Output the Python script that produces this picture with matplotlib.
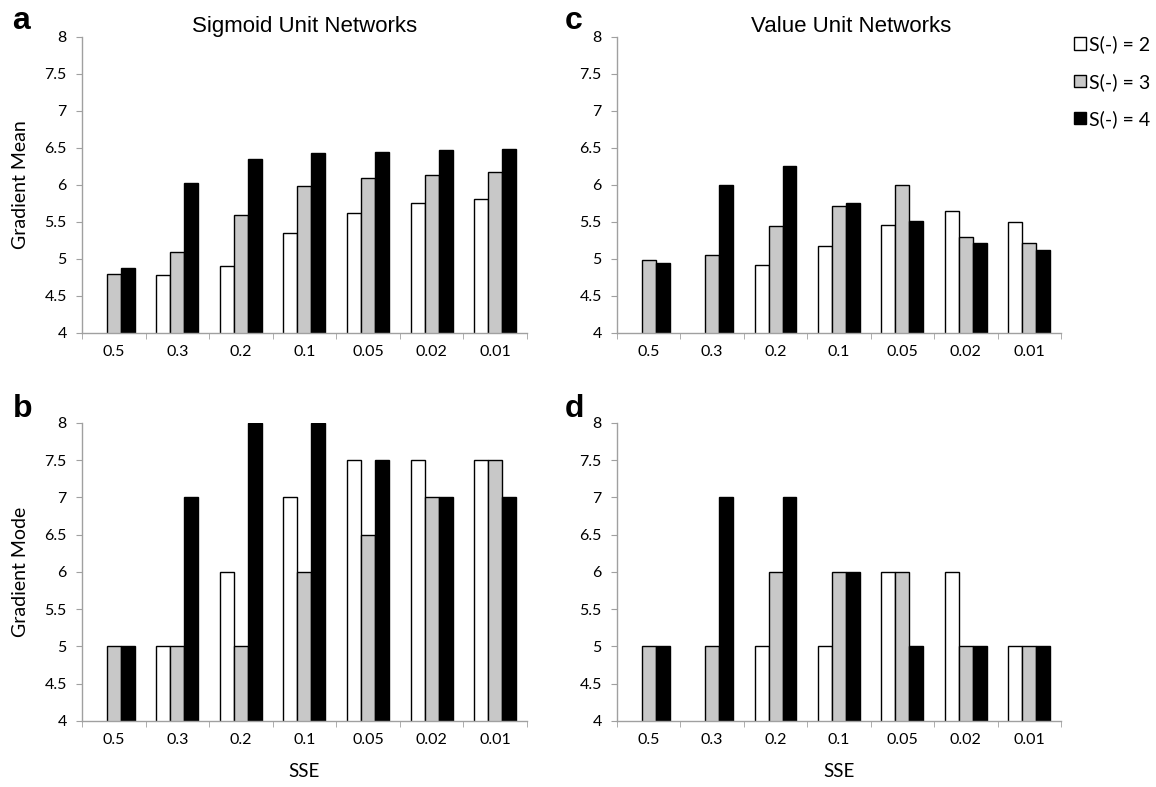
import numpy as np
import matplotlib.pyplot as plt
from matplotlib.patches import Patch

# SSE criterion per training stage
sse = ['0.5', '0.3', '0.2', '0.1', '0.05', '0.02', '0.01']

# gradient mean, sigmoid unit networks
sig_mean_s2 = [np.nan, 4.79, 4.90, 5.35, 5.62, 5.76, 5.81]
sig_mean_s3 = [4.80, 5.10, 5.60, 5.98, 6.10, 6.14, 6.17]
sig_mean_s4 = [4.88, 6.03, 6.35, 6.43, 6.45, 6.47, 6.48]

# gradient mode, sigmoid unit networks
sig_mode_s2 = [np.nan, 5, 6, 7, 7.5, 7.5, 7.5]
sig_mode_s3 = [5, 5, 5, 6, 6.5, 7, 7.5]
sig_mode_s4 = [5, 7, 8, 8, 7.5, 7, 7]

# gradient mean, value unit networks
val_mean_s2 = [np.nan, np.nan, 4.92, 5.18, 5.46, 5.65, 5.50]
val_mean_s3 = [4.98, 5.05, 5.45, 5.72, 6.00, 5.30, 5.22]
val_mean_s4 = [4.94, 6.00, 6.26, 5.75, 5.51, 5.21, 5.12]

# gradient mode, value unit networks
val_mode_s2 = [np.nan, np.nan, 5, 5, 6, 6, 5]
val_mode_s3 = [5, 5, 6, 6, 6, 5, 5]
val_mode_s4 = [5, 7, 7, 6, 5, 5, 5]

series_labels = ['S(-) = 2', 'S(-) = 3', 'S(-) = 4']
fills = ['white', '#c8c8c8', 'black']
yticks = [4, 4.5, 5, 5.5, 6, 6.5, 7, 7.5, 8]

tick_font = 'Lato'
head_font = 'Liberation Sans'
spine_col = '#a0a0a0'

fig = plt.figure(figsize=(11.56, 7.87), dpi=100)

def draw_panel(rect, groups, letter, letter_pos, title=None, title_x=0.5,
               ylabel=None, xlabel=None):
    ax = fig.add_axes(rect)
    x = np.arange(len(sse))
    w = 0.22
    for k, vals in enumerate(groups):
        ax.bar(x + (k - 1) * w, vals, w, bottom=0, color=fills[k],
               edgecolor='black', linewidth=1.0, zorder=2)
    ax.set_ylim(4, 8)
    ax.set_xlim(-0.5, len(sse) - 0.5)
    ax.set_yticks(yticks)
    ax.set_yticklabels(['%g' % v for v in yticks], family=tick_font, fontsize=11.5)
    ax.set_xticks(x)
    ax.set_xticklabels(sse, family=tick_font, fontsize=11.5)
    ax.set_xticks(np.arange(len(sse) + 1) - 0.5, minor=True)
    ax.tick_params(axis='x', which='major', length=0, pad=9)
    ax.tick_params(axis='x', which='minor', length=4, color=spine_col, direction='out')
    ax.tick_params(axis='y', length=4, color=spine_col, direction='out', pad=7)
    for s in ['top', 'right']:
        ax.spines[s].set_visible(False)
    for s in ['left', 'bottom']:
        ax.spines[s].set_color(spine_col)
        ax.spines[s].set_linewidth(1.0)
    if title:
        ax.set_title(title, family=head_font, fontsize=16, pad=0.5, x=title_x)
    if ylabel:
        ax.set_ylabel(ylabel, family=tick_font, fontsize=14, labelpad=11)
    if xlabel:
        ax.set_xlabel(xlabel, family=tick_font, fontsize=13.5, labelpad=11)
    ax.text(letter_pos[0], letter_pos[1], letter, transform=ax.transAxes,
            family=head_font, fontsize=23, fontweight='bold',
            va='baseline', ha='left')
    return ax

ax_a = draw_panel([0.0709, 0.5769, 0.3849, 0.3761],
                  [sig_mean_s2, sig_mean_s3, sig_mean_s4], 'a', (-0.157, 1.027),
                  title='Sigmoid Unit Networks', ylabel='Gradient Mean')
ax_b = draw_panel([0.0709, 0.0839, 0.3849, 0.3787],
                  [sig_mode_s2, sig_mode_s3, sig_mode_s4], 'b', (-0.155, 1.02),
                  ylabel='Gradient Mode', xlabel='SSE')
ax_c = draw_panel([0.5337, 0.5769, 0.3841, 0.3761],
                  [val_mean_s2, val_mean_s3, val_mean_s4], 'c', (-0.117, 1.027),
                  title='Value Unit Networks', title_x=0.527)
ax_d = draw_panel([0.5337, 0.0839, 0.3841, 0.3787],
                  [val_mode_s2, val_mode_s3, val_mode_s4], 'd', (-0.117, 1.02),
                  xlabel='SSE')

handles = [Patch(facecolor=fills[k], edgecolor='black', linewidth=1.0)
           for k in range(3)]
ax_c.legend(handles, series_labels, loc='upper left', bbox_to_anchor=(1.03, 1.005),
            frameon=False, prop={'family': tick_font, 'size': 14},
            handlelength=0.6, handleheight=0.6, handletextpad=0.15,
            labelspacing=1.0, borderaxespad=0, borderpad=0)

fig.savefig('out.png', dpi=100)
